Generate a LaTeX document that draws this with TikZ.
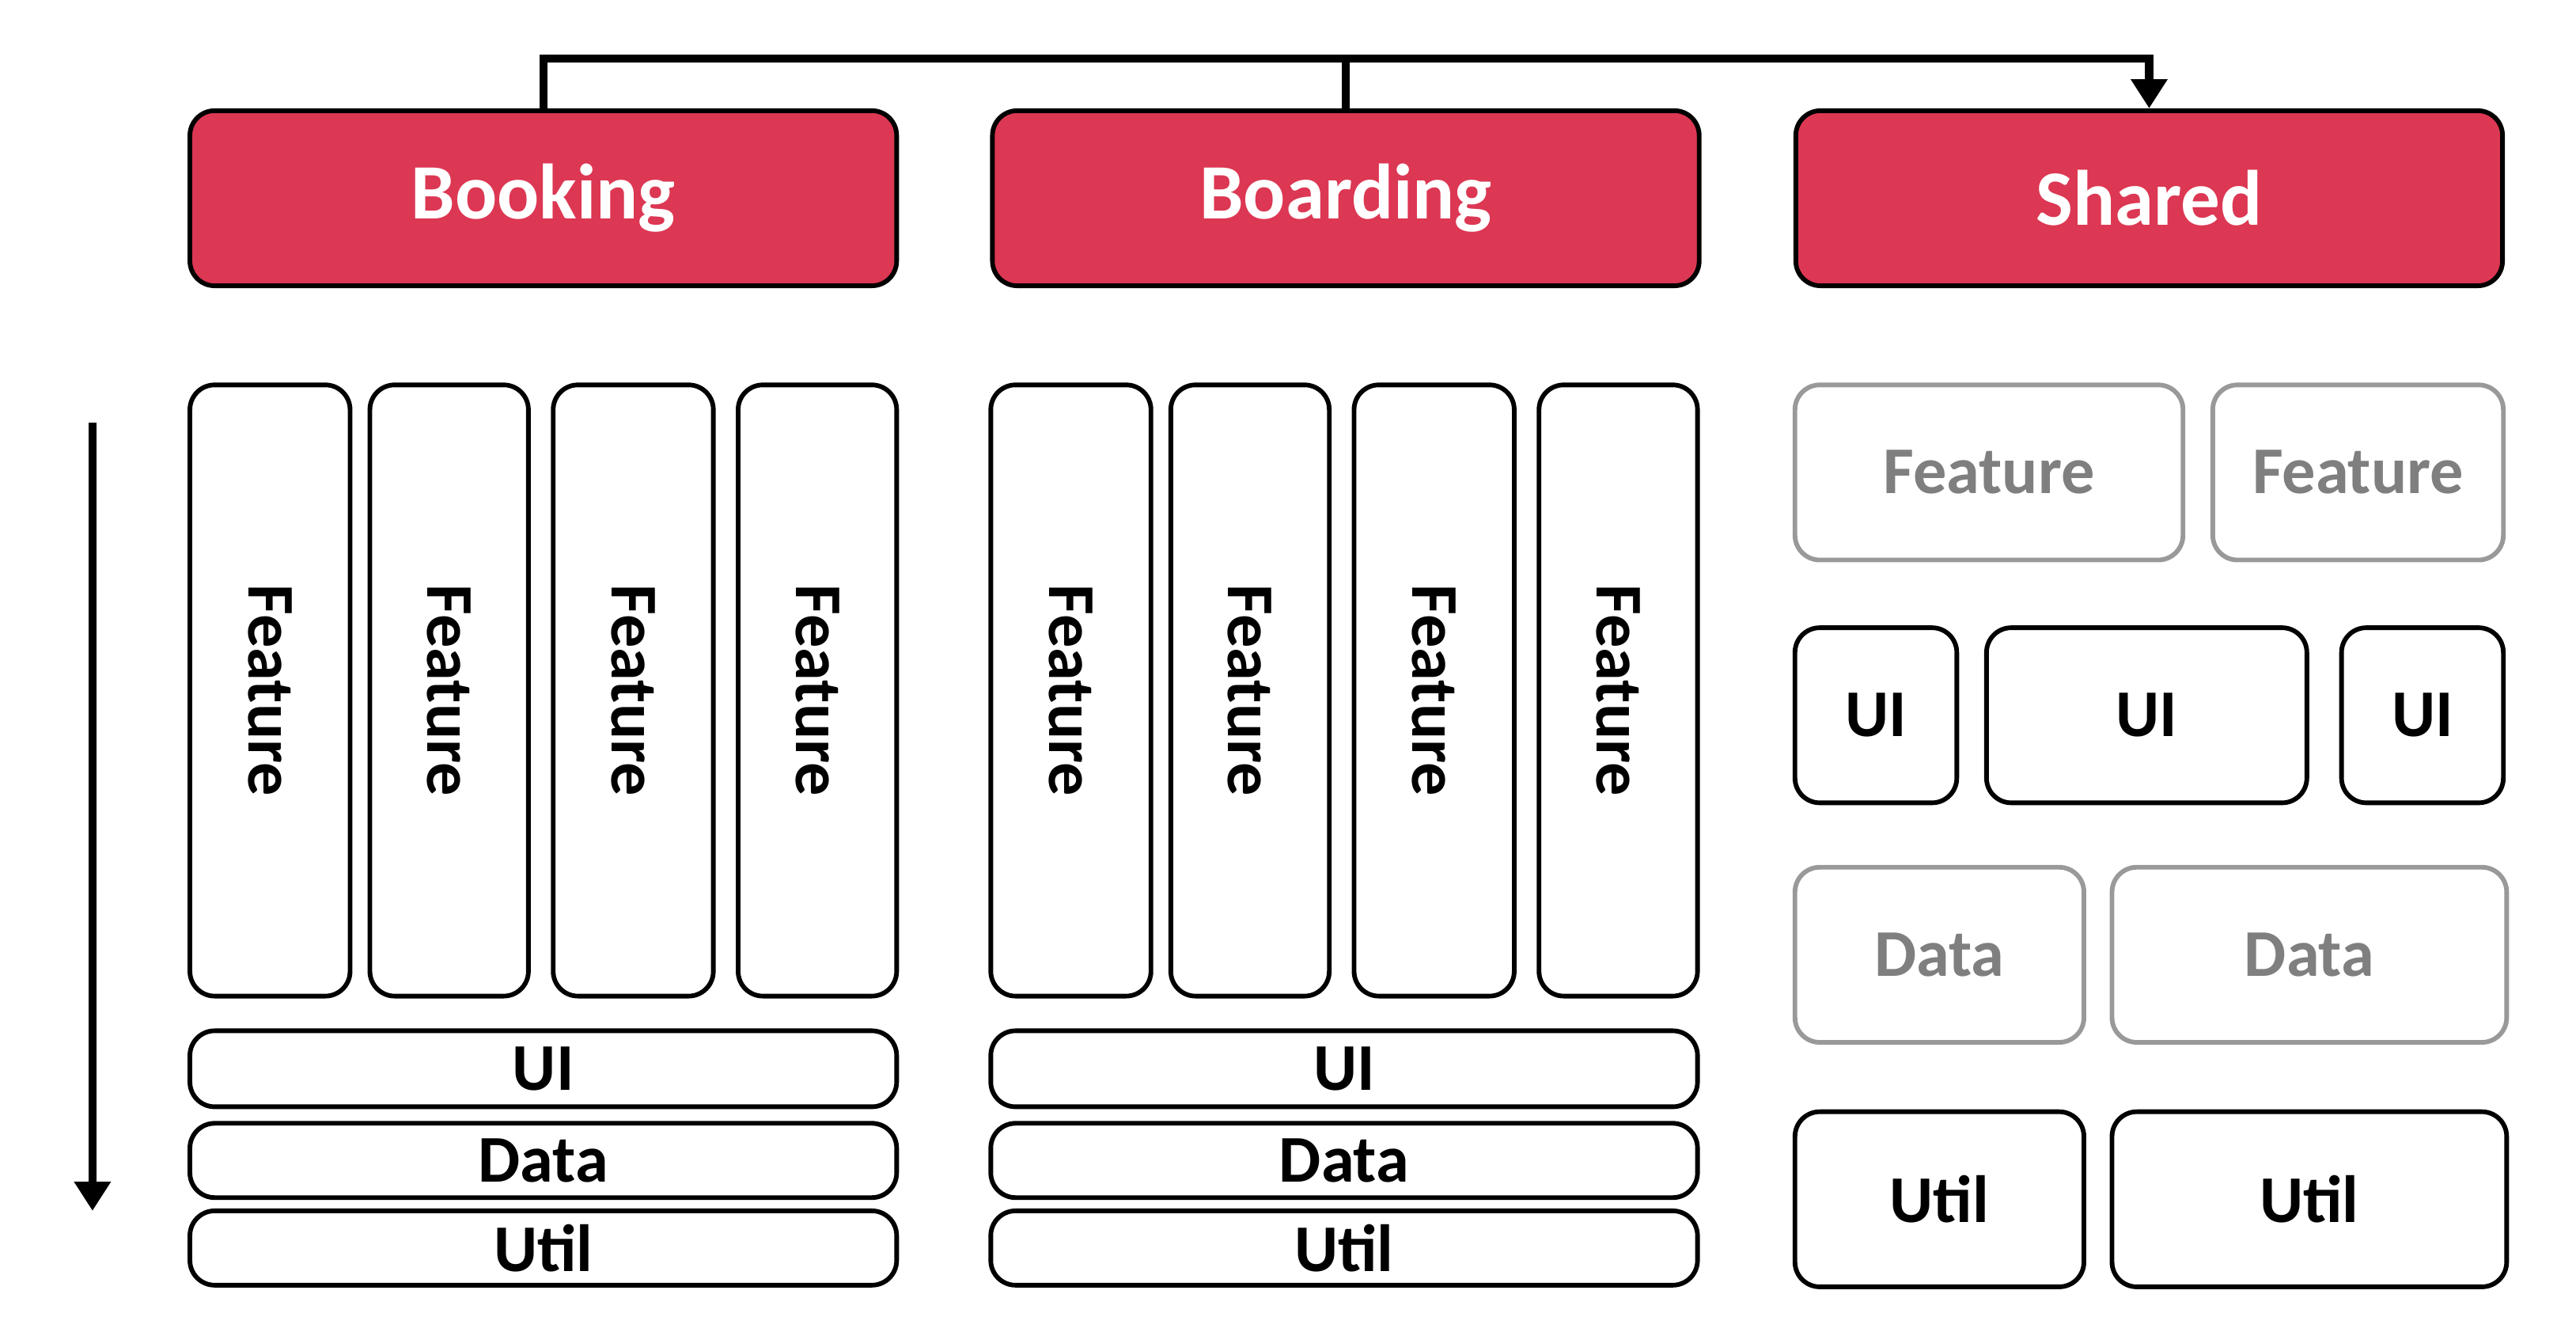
\documentclass[tikz,border=0pt]{standalone}
\usepackage{fontspec}
\setmainfont{Carlito}
\usetikzlibrary{arrows.meta}
\definecolor{headred}{HTML}{DC3753}
\definecolor{softgray}{HTML}{7F7F7F}
\tikzset{
  blk/.style={draw=black, line width=0.8pt, rounded corners=0.15cm, fill=white,
    font=\fontsize{11.5}{13}\selectfont\bfseries, inner sep=0pt},
  head/.style={blk, fill=headred, text=white, font=\fontsize{13.5}{15}\selectfont\bfseries},
  dim/.style={blk, draw=softgray!80, text=softgray},
  vert/.style={blk, rotate=-90},
}
% #1 style, #2 name, #3 centre, #4 width, #5 height, #6 text
\newcommand\blk[6]{\node[#1, minimum width=#4*0.01cm, minimum height=#5*0.01cm] (#2) at (#3) {#6};}
\newcommand\vblk[6]{\node[#1, minimum width=#5*0.01cm, minimum height=#4*0.01cm] (#2) at (#3) {#6};}
\begin{document}
\begin{tikzpicture}[x=0.01cm, y=-0.01cm]
    \useasboundingbox (0,0) rectangle (1560,806);
    % headers
    \blk{head}{booking}{329,120}{428}{106}{Booking}
    \blk{head}{boarding}{815,120}{428}{106}{Boarding}
    \blk{head}{shared}{1301.5,120}{428}{106}{Shared}
    \draw[line width=1.4pt, -{Triangle[length=5pt,width=6pt]}] (booking.north) -- ++(0,-30) -| (shared.north);
    \draw[line width=1.4pt] (boarding.north) -- ++(0,-30);
    % feature columns
    \vblk{vert}{bkf1}{163.5,418}{97}{370}{Feature}
    \vblk{vert}{bkf2}{272,418}{96}{370}{Feature}
    \vblk{vert}{bkf3}{383.5,418}{97}{370}{Feature}
    \vblk{vert}{bkf4}{495,418}{96}{370}{Feature}
    \vblk{vert}{bdf1}{648.5,418}{97}{370}{Feature}
    \vblk{vert}{bdf2}{757,418}{96}{370}{Feature}
    \vblk{vert}{bdf3}{868.5,418}{97}{370}{Feature}
    \vblk{vert}{bdf4}{980,418}{96}{370}{Feature}
    % layers
    \blk{blk}{bkui}{329,647}{428}{46}{UI}
    \blk{blk}{bkdata}{329,702.5}{428}{45}{Data}
    \blk{blk}{bkutil}{329,755.5}{428}{45}{Util}
    \blk{blk}{bdui}{814,647}{428}{46}{UI}
    \blk{blk}{bddata}{814,702.5}{428}{45}{Data}
    \blk{blk}{bdutil}{814,755.5}{428}{45}{Util}
    % shared
    \blk{dim}{shf1}{1204.5,286}{235}{106}{Feature}
    \blk{dim}{shf2}{1428,286}{176}{106}{Feature}
    \blk{blk}{shui1}{1136,433}{98}{106}{UI}
    \blk{blk}{shui2}{1300,433}{194}{106}{UI}
    \blk{blk}{shui3}{1467,433}{98}{106}{UI}
    \blk{dim}{shd1}{1174.5,578}{175}{106}{Data}
    \blk{dim}{shd2}{1398.5,578}{239}{106}{Data}
    \blk{blk}{shu1}{1174.5,726}{175}{106}{Util}
    \blk{blk}{shu2}{1398.5,726}{239}{106}{Util}
    % dependency direction
    \coordinate (dtop) at (56,256);
    \coordinate (dbot) at (56,733);
    \draw[line width=1.4pt, -{Triangle[length=5pt,width=6pt]}] (dtop) -- (dbot);
\end{tikzpicture}
\end{document}
